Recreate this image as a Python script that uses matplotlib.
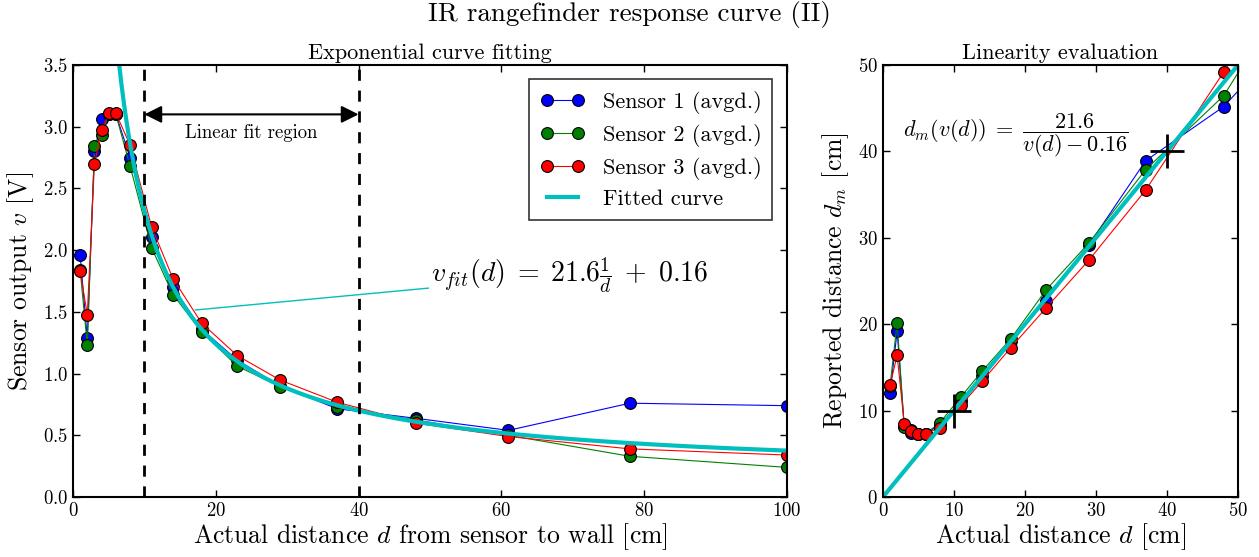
import numpy as np
import matplotlib
matplotlib.use('Agg')
import matplotlib.pyplot as plt

plt.rcParams['font.family'] = 'serif'
plt.rcParams['font.serif'] = ['cmr10', 'DejaVu Serif']
plt.rcParams['mathtext.fontset'] = 'cm'
plt.rcParams['axes.unicode_minus'] = False
plt.rcParams['axes.formatter.use_mathtext'] = True
plt.rcParams['xtick.direction'] = 'in'
plt.rcParams['ytick.direction'] = 'in'
plt.rcParams['xtick.top'] = True
plt.rcParams['ytick.right'] = True

# measured distances [cm] and averaged sensor voltages [V]
distance = [1, 2, 3, 4, 5, 6, 8, 11, 14, 18, 23, 29, 37, 48, 61, 78, 100]
sensor1 = [1.96, 1.285, 2.80, 3.06, 3.10, 3.10, 2.75, 2.11, 1.70, 1.36, 1.11, 0.90, 0.715, 0.638, 0.54, 0.76, 0.74]
sensor2 = [1.84, 1.23, 2.84, 2.93, 3.10, 3.10, 2.68, 2.02, 1.64, 1.34, 1.06, 0.895, 0.73, 0.625, 0.50, 0.33, 0.24]
sensor3 = [1.83, 1.477, 2.70, 2.97, 3.11, 3.11, 2.85, 2.19, 1.77, 1.41, 1.146, 0.948, 0.768, 0.599, 0.49, 0.39, 0.34]
labels = ['Sensor 1 (avgd.)', 'Sensor 2 (avgd.)', 'Sensor 3 (avgd.)']
colors = ['b', 'g', 'r']

# fit v = A/d + B
FIT_A = 21.6
FIT_B = 0.16
fit_region = [10, 40]
check_points = [10, 40]


def v_fit(d):
    return FIT_A / np.asarray(d, dtype=float) + FIT_B


def d_measured(v):
    return FIT_A / (np.asarray(v, dtype=float) - FIT_B)


fig = plt.figure(figsize=(12.59, 5.57), dpi=100)
ax1 = fig.add_axes([0.058, 0.1077, 0.567, 0.7756])
ax2 = fig.add_axes([0.7013, 0.1077, 0.282, 0.7756])

fig.suptitle('IR rangefinder response curve (II)', fontsize=19.5, y=0.998)

# left: raw response with fitted curve
for v, lab, c in zip([sensor1, sensor2, sensor3], labels, colors):
    ax1.plot(distance, v, '-o', color=c, lw=0.8, ms=8.5, mec='k', mew=0.8, label=lab)
d_curve = np.linspace(1, 100, 600)
ax1.plot(d_curve, v_fit(d_curve), color='c', lw=3, label='Fitted curve')
for x in fit_region:
    ax1.axvline(x, color='k', ls='--', lw=2, dashes=(4, 3.5))
ax1.annotate('', xy=(fit_region[0], 3.1), xytext=(fit_region[1], 3.1),
             arrowprops=dict(arrowstyle='<|-|>', color='k', lw=1.5, mutation_scale=26,
                             shrinkA=0, shrinkB=0))
ax1.text(np.mean(fit_region), 2.95, 'Linear fit region', ha='center', va='center', fontsize=13.5)
ax1.annotate(r'$v_{fit}(d)\;=\;21.6\frac{1}{d}\;+\;0.16$', xy=(17.1, 1.515), xytext=(50.2, 1.8),
             fontsize=20, va='center', ha='left',
             arrowprops=dict(arrowstyle='-', color='c', lw=1, shrinkA=0, shrinkB=0))
ax1.set_xlim(0, 100)
ax1.set_ylim(0, 3.5)
ax1.set_xticks(np.arange(0, 101, 20))
ax1.set_yticks(np.arange(0, 3.51, 0.5))
ax1.set_title('Exponential curve fitting', fontsize=16, pad=4)
ax1.set_xlabel('Actual distance $d$ from sensor to wall [cm]', fontsize=18.5, labelpad=1)
ax1.set_ylabel('Sensor output $v$ [V]', fontsize=18.5, labelpad=5)
leg = ax1.legend(loc='upper right', fontsize=16, numpoints=2, fancybox=False,
                 borderaxespad=0.65, handlelength=2.0, labelspacing=0.45,
                 borderpad=0.5)
leg.get_frame().set_edgecolor('k')
leg.get_frame().set_linewidth(1.2)

# right: distance reported through the inverse fit
for v, c in zip([sensor1, sensor2, sensor3], colors):
    ax2.plot(distance, d_measured(v), '-o', color=c, lw=0.8, ms=8.5, mec='k', mew=0.8)
d_line = np.array([1e-9, 50])
ax2.plot(d_line, d_measured(v_fit(d_line)), color='c', lw=3)
ax2.plot(check_points, check_points, '+', color='k', ms=24, mew=2)
ax2.text(2.8, 41.8, r'$d_m(v(d))\;=\;\dfrac{21.6}{v(d) - 0.16}$', fontsize=16, va='center')
ax2.set_xlim(0, 50)
ax2.set_ylim(0, 50)
ax2.set_xticks(np.arange(0, 51, 10))
ax2.set_yticks(np.arange(0, 51, 10))
ax2.set_title('Linearity evaluation', fontsize=16, pad=4)
ax2.set_xlabel('Actual distance $d$ [cm]', fontsize=18.5, labelpad=1)
ax2.set_ylabel('Reported distance $d_m$ [cm]', fontsize=18.5, labelpad=5)

for ax in (ax1, ax2):
    ax.tick_params(labelsize=13.5, length=5, width=1)
    for s in ax.spines.values():
        s.set_linewidth(1.5)

fig.savefig('out.png', dpi=100)
